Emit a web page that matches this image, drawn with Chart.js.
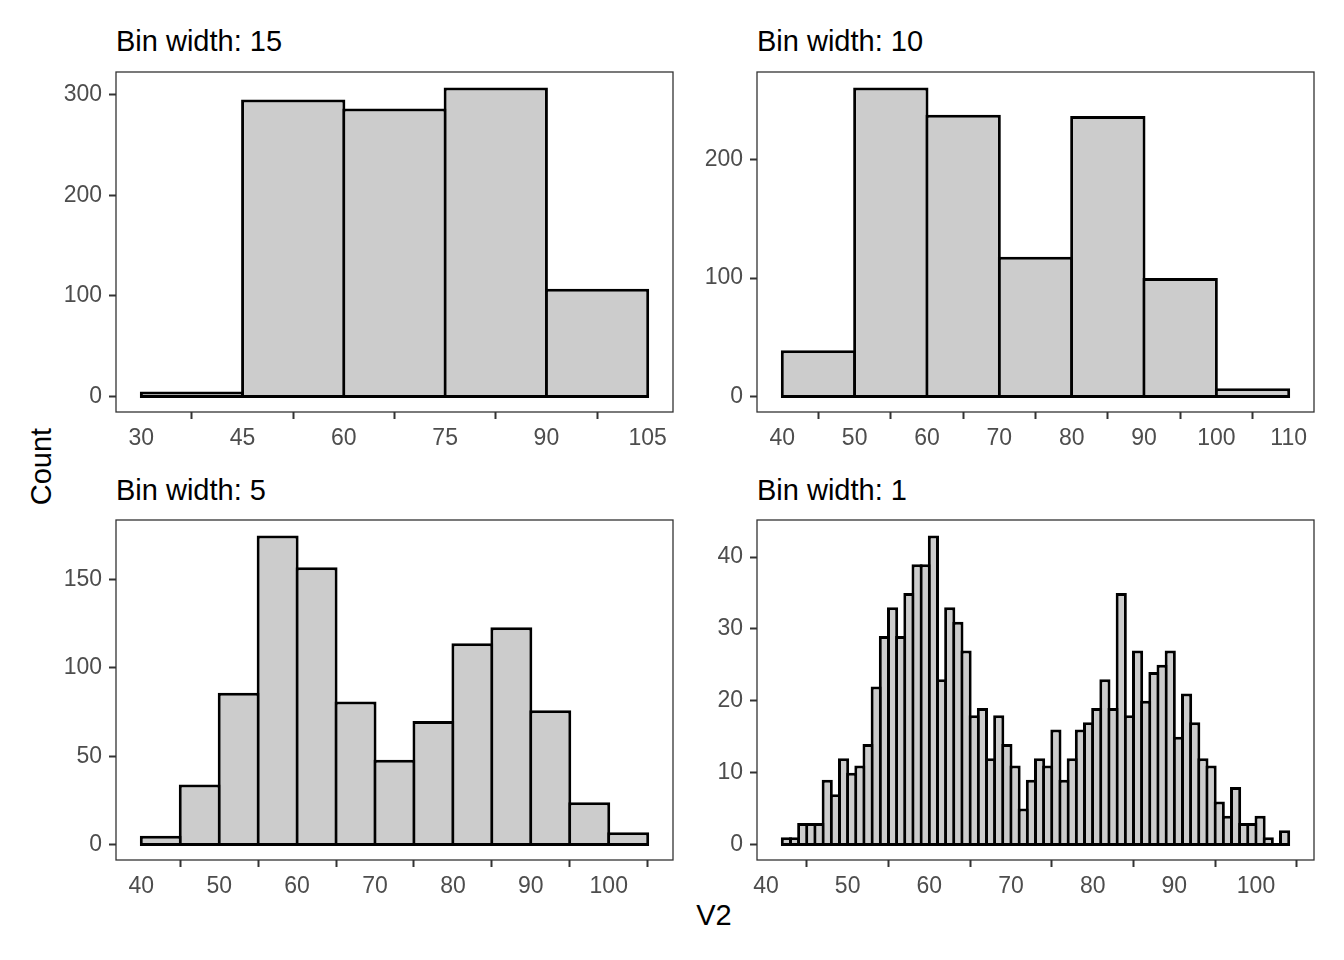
<!DOCTYPE html>
<html>
<head>
<meta charset="utf-8">
<title>Histogramas - bin width</title>
<script src="https://cdn.jsdelivr.net/npm/chart.js@4.4.1/dist/chart.umd.min.js"></script>
<style>
  body { margin: 0; background: #fff; width: 1344px; height: 960px; position: relative; overflow: hidden;
         font-family: 'Liberation Sans', Arial, sans-serif; }
  canvas { position: absolute; }
  .texto { position: absolute; font-size: 29px; line-height: 29px; color: #000; white-space: nowrap; }
</style>
</head>
<body>

<div class="texto" style="left:116px; top:26.5px;">Bin width: 15</div>
<div class="texto" style="left:757px; top:26.5px;">Bin width: 10</div>
<div class="texto" style="left:116px; top:475.5px;">Bin width: 5</div>
<div class="texto" style="left:757px; top:475.5px;">Bin width: 1</div>

<div class="texto" style="left:-59.3px; top:451.5px; width:200px; text-align:center; transform:rotate(-90deg);">Count</div>
<div class="texto" style="left:614px; top:900.5px; width:200px; text-align:center;">V2</div>

<canvas id="hist15" width="652" height="410" style="left:36px; top:62px;"></canvas>
<canvas id="hist10" width="652" height="410" style="left:677px; top:62px;"></canvas>
<canvas id="hist5" width="652" height="410" style="left:36px; top:510px;"></canvas>
<canvas id="hist1" width="652" height="410" style="left:677px; top:510px;"></canvas>

<script>
// --- DADOS (limite inferior de cada classe e contagens) ---
const bins15 = [30, 45, 60, 75, 90];
const counts15 = [5, 295, 286, 307, 107];
const ticksX15 = [30, 45, 60, 75, 90, 105];
const ticksY15 = [0, 100, 200, 300];

const bins10 = [40, 50, 60, 70, 80, 90, 100];
const counts10 = [39, 261, 238, 118, 237, 100, 7];
const ticksX10 = [40, 50, 60, 70, 80, 90, 100, 110];
const ticksY10 = [0, 100, 200];

const bins5 = [40, 45, 50, 55, 60, 65, 70, 75, 80, 85, 90, 95, 100];
const counts5 = [5, 34, 86, 175, 157, 81, 48, 70, 114, 123, 76, 24, 7];
const ticksX5 = [40, 50, 60, 70, 80, 90, 100];
const ticksY5 = [0, 50, 100, 150];

const bins1 = [42, 43, 44, 45, 46, 47, 48, 49, 50, 51,
               52, 53, 54, 55, 56, 57, 58, 59, 60, 61,
               62, 63, 64, 65, 66, 67, 68, 69, 70, 71,
               72, 73, 74, 75, 76, 77, 78, 79, 80, 81,
               82, 83, 84, 85, 86, 87, 88, 89, 90, 91,
               92, 93, 94, 95, 96, 97, 98, 99, 100, 101,
               102, 103];
const counts1 = [1, 1, 3, 3, 3, 9, 7, 12, 10, 11,
                 14, 22, 29, 33, 29, 35, 39, 39, 43, 23,
                 33, 31, 27, 18, 19, 12, 18, 14, 11, 5,
                 9, 12, 11, 16, 9, 12, 16, 17, 19, 23,
                 19, 35, 18, 27, 20, 24, 25, 27, 15, 21,
                 17, 12, 11, 6, 4, 8, 3, 3, 4, 1,
                 0, 2];
const ticksX1 = [40, 50, 60, 70, 80, 90, 100];
const ticksY1 = [0, 10, 20, 30, 40];

// --- CONFIGURAÇÕES ---
const PAINEL_W = 557;
const PAINEL_H = 340;
const BORDA = 3;            // espessura do contorno das barras
const corTexto = '#4D4D4D';
const corEixo = '#333333';

Chart.defaults.font.family = "'Liberation Sans', Arial, sans-serif";
Chart.defaults.animation = false;

// Desenha a moldura do painel (estilo theme_bw)
const pluginMoldura = {
    id: 'moldura',
    afterDraw(chart) {
        const { ctx, chartArea: a } = chart;
        ctx.save();
        ctx.strokeStyle = corEixo;
        ctx.lineWidth = 1.3;
        ctx.strokeRect(a.left, a.top, a.right - a.left, a.bottom - a.top);
        ctx.restore();
    }
};

function eixo(min, max, ticks, tamanho, horizontal) {
    return {
        type: 'linear',
        min: min,
        max: max,
        offset: false,
        grid: { drawOnChartArea: false, drawTicks: true, tickLength: 7, tickColor: corEixo, tickWidth: 2 },
        border: { display: false },
        ticks: { color: corTexto, font: { size: 23 }, padding: horizontal ? 6 : 7, maxRotation: 0, autoSkip: false },
        afterBuildTicks: (s) => { s.ticks = ticks.map(v => ({ value: v })); },
        afterFit: (s) => {
            // tamanho fixo e sem folga extra, para o painel ficar exatamente no lugar
            if (horizontal) { s.height = tamanho; s.paddingLeft = 0; s.paddingRight = 0; }
            else { s.width = tamanho; s.paddingTop = 0; s.paddingBottom = 0; }
        }
    };
}

function criarHistograma(idCanvas, bins, counts, binWidth, ticksX, ticksY) {
    const xMin = bins[0];
    const xMax = bins[bins.length - 1] + binWidth;
    const expX = (xMax - xMin) * 0.05;
    const yMax = Math.max(...counts);

    // barras um pouco mais largas/baixas para que os contornos fiquem centrados nas bordas das classes
    const pxPorUnidade = PAINEL_W / (xMax - xMin + 2 * expX);
    const larguraBin = pxPorUnidade * binWidth;
    const pxPorContagem = PAINEL_H / (1.1 * yMax);

    const ctx = document.getElementById(idCanvas).getContext('2d');
    return new Chart(ctx, {
        type: 'bar',
        data: {
            datasets: [{
                data: bins.map((b, i) => ({ x: b + binWidth / 2, y: counts[i] })),
                backgroundColor: '#CCCCCC',
                borderColor: '#000000',
                borderWidth: BORDA,
                borderSkipped: false,
                categoryPercentage: 1,
                barPercentage: (larguraBin + BORDA) / larguraBin,
                base: -(BORDA / 2) / pxPorContagem,
                minBarLength: BORDA
            }]
        },
        options: {
            responsive: false,
            layout: { padding: { top: 10, right: 15, left: 0, bottom: 0 } },
            plugins: { legend: { display: false }, tooltip: { enabled: false } },
            scales: {
                x: eixo(xMin - expX, xMax + expX, ticksX, 60, true),
                y: eixo(-0.05 * yMax, 1.05 * yMax, ticksY, 80, false)
            }
        },
        plugins: [pluginMoldura]
    });
}

// --- INICIALIZAÇÃO ---
criarHistograma('hist15', bins15, counts15, 15, ticksX15, ticksY15);
criarHistograma('hist10', bins10, counts10, 10, ticksX10, ticksY10);
criarHistograma('hist5', bins5, counts5, 5, ticksX5, ticksY5);
criarHistograma('hist1', bins1, counts1, 1, ticksX1, ticksY1);
</script>
</body>
</html>
